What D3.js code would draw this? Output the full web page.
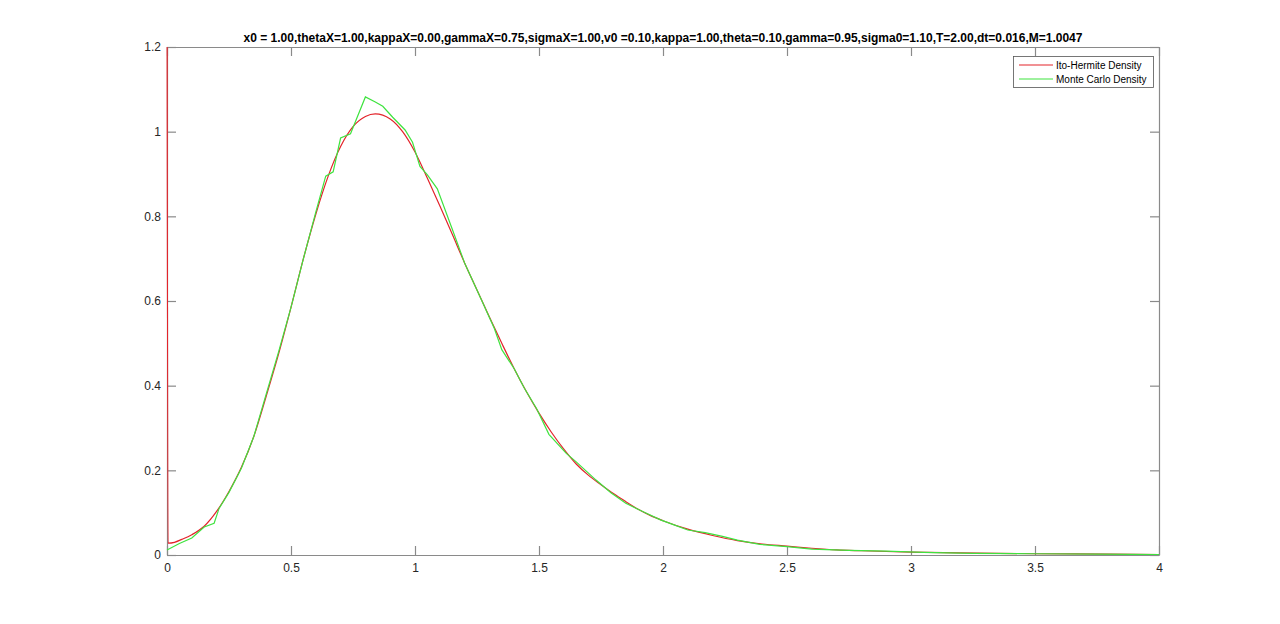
<!DOCTYPE html>
<html><head><meta charset="utf-8">
<script src="https://cdn.jsdelivr.net/npm/d3@7"></script>
<style>body{margin:0;background:#fff}svg{display:block}text{font-family:"Liberation Sans",Arial,sans-serif}</style>
</head><body><svg id="c" width="1280" height="624"></svg>
<script>
const titleText = "x0 = 1.00,thetaX=1.00,kappaX=0.00,gammaX=0.75,sigmaX=1.00,v0 =0.10,kappa=1.00,theta=0.10,gamma=0.95,sigma0=1.10,T=2.00,dt=0.016,M=1.0047";
const seriesNames = ["Ito-Hermite Density", "Monte Carlo Density"];
const xTicks = [0, 0.5, 1, 1.5, 2, 2.5, 3, 3.5, 4];
const xTickLabels = ["0", "0.5", "1", "1.5", "2", "2.5", "3", "3.5", "4"];
const yTicks = [0, 0.2, 0.4, 0.6, 0.8, 1, 1.2];
const yTickLabels = ["0", "0.2", "0.4", "0.6", "0.8", "1", "1.2"];

const itoX = [0,0.004,0.03,0.06,0.10,0.15,0.20,0.25,0.30,0.35,0.40,0.45,0.50,0.55,0.60,0.65,0.70,0.75,0.80,0.84,0.90,0.95,1.00,1.05,1.10,1.15,1.20,1.25,1.30,1.35,1.40,1.45,1.50,1.55,1.60,1.65,1.70,1.75,1.80,1.85,1.90,1.95,2.00,2.10,2.20,2.30,2.40,2.50,2.60,2.70,2.80,3.00,3.20,3.50,3.80,4.00];
const itoY = [1.5,0.028,0.030,0.037,0.048,0.068,0.103,0.150,0.207,0.280,0.375,0.475,0.585,0.70,0.805,0.895,0.965,1.012,1.036,1.042,1.030,1.000,0.952,0.890,0.825,0.758,0.690,0.626,0.562,0.500,0.440,0.385,0.335,0.290,0.250,0.215,0.188,0.166,0.145,0.126,0.108,0.093,0.081,0.061,0.046,0.034,0.026,0.021,0.016,0.012,0.010,0.007,0.005,0.003,0.002,0.001];

const mcX = [0,0.05,0.10,0.15,0.19,0.21,0.25,0.30,0.35,0.40,0.45,0.50,0.55,0.60,0.64,0.67,0.70,0.74,0.80,0.84,0.87,0.91,0.96,0.99,1.02,1.05,1.09,1.15,1.20,1.27,1.32,1.35,1.40,1.44,1.49,1.54,1.61,1.65,1.73,1.79,1.85,1.92,1.99,2.05,2.10,2.17,2.24,2.30,2.39,2.50,2.60,2.75,2.90,3.05,3.25,3.50,3.75,4.00];
const mcY = [0.012,0.027,0.040,0.066,0.075,0.11,0.148,0.205,0.28,0.38,0.48,0.585,0.70,0.81,0.895,0.905,0.985,0.995,1.082,1.07,1.06,1.034,1.004,0.975,0.918,0.898,0.865,0.77,0.69,0.60,0.535,0.485,0.44,0.395,0.346,0.285,0.24,0.22,0.177,0.147,0.122,0.102,0.083,0.070,0.059,0.053,0.044,0.035,0.025,0.020,0.014,0.011,0.009,0.006,0.004,0.003,0.002,0.001];

const colors = ["#e3242b", "#3fe33f"];
const L = 167, R = 1159, T = 47, B = 555;
const svg = d3.select("#c");
const x = d3.scaleLinear().domain([0, 4]).range([L, R]);
const y = d3.scaleLinear().domain([0, 1.2]).range([B, T]);
const axisColor = "#8a8a8a", tickLen = 9;

svg.append("defs").append("clipPath").attr("id", "clip")
  .append("rect").attr("x", L - 1.5).attr("y", T).attr("width", R - L + 1.5).attr("height", B - T);

const gx = svg.append("g").attr("transform", `translate(0,${B})`)
  .call(d3.axisBottom(x).tickValues(xTicks).tickFormat((d, i) => xTickLabels[i]).tickSizeInner(-tickLen).tickSizeOuter(0).tickPadding(6));
const gxt = svg.append("g").attr("transform", `translate(0,${T})`)
  .call(d3.axisTop(x).tickValues(xTicks).tickFormat("").tickSizeInner(-tickLen).tickSizeOuter(0));
const gy = svg.append("g").attr("transform", `translate(${L},0)`)
  .call(d3.axisLeft(y).tickValues(yTicks).tickFormat((d, i) => yTickLabels[i]).tickSizeInner(-tickLen).tickSizeOuter(0).tickPadding(6));
const gyr = svg.append("g").attr("transform", `translate(${R},0)`)
  .call(d3.axisRight(y).tickValues(yTicks).tickFormat("").tickSizeInner(-tickLen).tickSizeOuter(0));
[gx, gxt, gy, gyr].forEach(g => {
  g.selectAll("path,line").attr("stroke", axisColor).attr("stroke-width", 1.2);
  g.selectAll("text").attr("fill", "#262626").style("font-size", "12px");
});
gx.selectAll("text").attr("dy", "0.95em");

const plot = svg.append("g").attr("clip-path", "url(#clip)");
const smooth = d3.line().x(d => x(d[0])).y(d => y(d[1])).curve(d3.curveMonotoneX);
const jagged = d3.line().x(d => x(d[0])).y(d => y(d[1]));
plot.append("path").datum(itoX.map((v, i) => [v, itoY[i]]))
  .attr("d", smooth).attr("fill", "none").attr("stroke", colors[0]).attr("stroke-width", 1.2);
plot.append("path").datum(mcX.map((v, i) => [v, mcY[i]]))
  .attr("d", jagged).attr("fill", "none").attr("stroke", colors[1]).attr("stroke-width", 1.2);

svg.append("text").attr("x", (L + R) / 2).attr("y", 42).attr("text-anchor", "middle")
  .style("font-size", "12px").style("font-weight", "bold").attr("fill", "#000").text(titleText);

const lg = svg.append("g");
lg.append("rect").attr("x", 1013.5).attr("y", 56.5).attr("width", 140).attr("height", 31)
  .attr("fill", "#fff").attr("stroke", "#555").attr("stroke-width", 0.8);
seriesNames.forEach((n, i) => {
  const yy = 65 + i * 14;
  lg.append("line").attr("x1", 1019).attr("x2", 1053).attr("y1", yy).attr("y2", yy)
    .attr("stroke", colors[i]).attr("stroke-width", 1.2);
  lg.append("text").attr("x", 1056).attr("y", yy).attr("dy", "0.35em")
    .style("font-size", "10px").attr("fill", "#000").text(n);
});
</script></body></html>
